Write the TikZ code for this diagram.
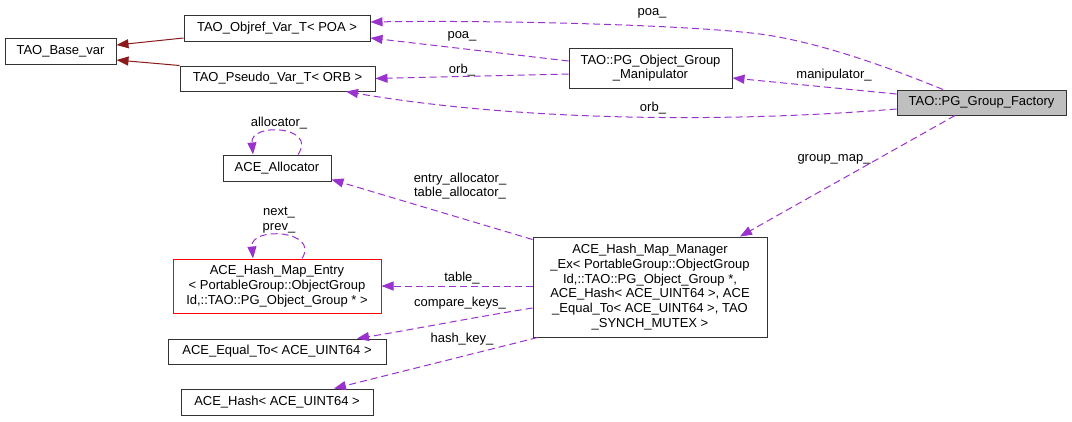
\documentclass[tikz,border=0pt]{standalone}
\usepackage{fontspec}
\setmainfont{Liberation Sans}
\usetikzlibrary{arrows.meta}
\definecolor{dep}{HTML}{9A32CD}
\definecolor{inh}{HTML}{8B1A1A}
\definecolor{bord}{HTML}{333333}
\definecolor{hl}{HTML}{BFBFBF}
\tikzset{
  cls/.style={draw=bord, line width=1pt, rectangle, inner sep=0pt, align=center, font=\fontsize{13}{14.7}\selectfont},
  lbl/.style={inner sep=0pt, align=center, font=\fontsize{13}{14.7}\selectfont},
  depl/.style={draw=dep, line width=1pt, dash pattern=on 7pt off 4pt, -{Triangle[length=12pt,width=9pt,fill=dep]}},
  inhl/.style={draw=inh, line width=1pt, -{Triangle[length=12pt,width=9pt,fill=inh]}}
}
\begin{document}
\begin{tikzpicture}[x=1pt,y=-1pt]
\useasboundingbox (0,0) rectangle (1072,421);
\node[cls, minimum width=111pt, minimum height=26pt] (base) at (60.5,51) {TAO\_Base\_var};
\node[cls, minimum width=186pt, minimum height=26pt] (objref) at (277,28) {TAO\_Objref\_Var\_T< POA >};
\node[cls, minimum width=195pt, minimum height=25pt] (pseudo) at (277.5,78.5) {TAO\_Pseudo\_Var\_T< ORB >};
\node[cls, minimum width=163pt, minimum height=40pt] (manip) at (650.5,68) {TAO::PG\_Object\_Group\\\_Manipulator};
\node[cls, fill=hl, minimum width=169pt, minimum height=25pt] (factory) at (981.5,102.5) {TAO::PG\_Group\_Factory};
\node[cls, minimum width=108pt, minimum height=26pt] (alloc) at (277,168) {ACE\_Allocator};
\node[cls, draw=red, minimum width=208pt, minimum height=54pt] (entry) at (277,286) {ACE\_Hash\_Map\_Entry\\< PortableGroup::ObjectGroup\\Id,::TAO::PG\_Object\_Group * >};
\node[cls, minimum width=218pt, minimum height=25pt] (equal) at (277,351.5) {ACE\_Equal\_To< ACE\_UINT64 >};
\node[cls, minimum width=192pt, minimum height=26pt] (hash) at (277,402) {ACE\_Hash< ACE\_UINT64 >};
\node[cls, minimum width=234pt, minimum height=100pt] (manager) at (650,287) {ACE\_Hash\_Map\_Manager\\\_Ex< PortableGroup::ObjectGroup\\Id,::TAO::PG\_Object\_Group *,\\ACE\_Hash< ACE\_UINT64 >, ACE\\\_Equal\_To< ACE\_UINT64 >, TAO\\\_SYNCH\_MUTEX >};

% inheritance
\draw[inhl] ([yshift=-10pt]objref.west) -- ([yshift=6pt]base.east);
\draw[inhl] (pseudo.north west) -- ([yshift=-9pt]base.east);

% dependencies
\draw[depl] ([xshift=-38.5pt]factory.north) .. controls (900,72) and (830,45) .. (767,35) .. controls (700,25) and (500,20) .. ([yshift=6pt]objref.east);
\draw[depl] ([yshift=7pt]manip.west) -- ([yshift=-10pt]objref.east);
\draw[depl] ([yshift=-6pt]manip.west) -- (pseudo.east);
\draw[depl] ([yshift=-6.5pt]factory.west) .. controls (700,125) and (500,118) .. ([xshift=68.5pt]pseudo.south);
\draw[depl] ([yshift=8.5pt]factory.west) -- ([yshift=-10pt]manip.east);
\draw[depl] ([xshift=-26.5pt]factory.south) -- ([xshift=90pt]manager.north);
\draw[depl] ([yshift=-3pt]manager.north west) -- ([yshift=2pt]alloc.south east);
\draw[depl] ([yshift=1pt]manager.west) -- (entry.east);
\draw[depl] ([yshift=-21pt]manager.west) .. controls (470,318) and (410,330) .. ([xshift=80pt]equal.north);
\draw[depl] ([xshift=5pt]manager.south west) .. controls (480,352) and (400,372) .. ([xshift=57pt]hash.north);
\draw[depl] ([xshift=21pt]alloc.north) .. controls (318,126) and (250,122) .. ([xshift=-24pt]alloc.north);
\draw[depl] ([xshift=25pt]entry.north) .. controls (320,230) and (250,226) .. ([xshift=-24pt]entry.north);

% labels
\node[lbl] (l1) at (652,13) {poa\_};
\node[lbl] (l2) at (462,36) {poa\_};
\node[lbl] (l3) at (462,70) {orb\_};
\node[lbl] (l4) at (653,108) {orb\_};
\node[lbl] (l5) at (834,75) {manipulator\_};
\node[lbl] (l6) at (834,159) {group\_map\_};
\node[lbl] (l7) at (279,123) {allocator\_};
\node[lbl] (l8) at (460,186) {entry\_allocator\_\\table\_allocator\_};
\node[lbl] (l9) at (279,220) {next\_\\prev\_};
\node[lbl] (l10) at (462,278) {table\_};
\node[lbl] (l11) at (460,303) {compare\_keys\_};
\node[lbl] (l12) at (462,339) {hash\_key\_};
\end{tikzpicture}
\end{document}
